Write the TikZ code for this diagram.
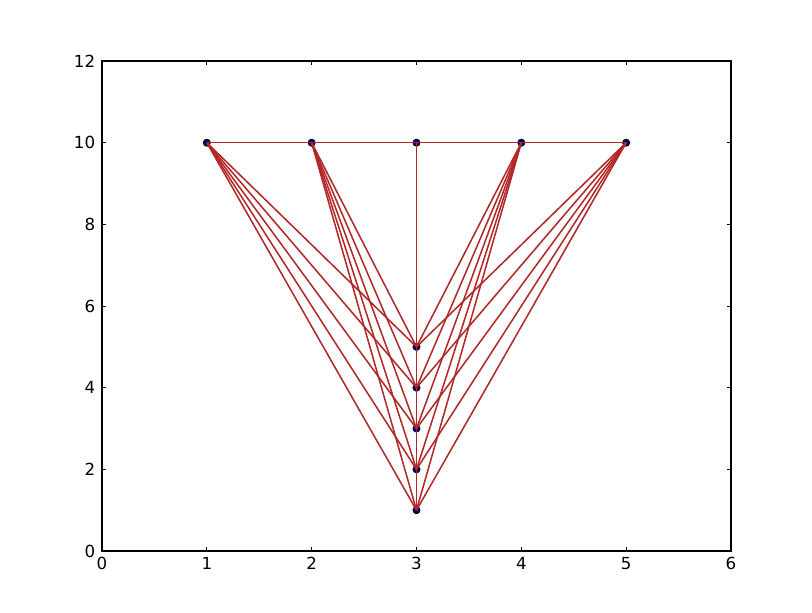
\documentclass[tikz,border=0pt]{standalone}
\usepackage{fontspec}
\setmainfont{DejaVu Sans}
\usetikzlibrary{positioning}
\definecolor{edgered}{RGB}{178,40,40}
\definecolor{dotblue}{RGB}{0,0,128}

\begin{document}
\begin{tikzpicture}[
  x=3.145cm, y=1.225cm,
  vertex/.style={circle, draw=black, fill=dotblue, inner sep=0pt, minimum size=0.22cm, line width=0.5pt},
  edge/.style={draw=edgered, line width=1.3pt},
  ticklbl/.style={font=\fontsize{14.2}{16}\selectfont, inner sep=0pt},
  tick/.style={line width=0.6pt}
]
  \useasboundingbox (-0.973,-1.494) rectangle (6.773,13.495);

  % ticks and labels
  \foreach \i in {0,...,6} {
    \draw[tick] (\i,0) -- ++(0,0.12cm);
    \draw[tick] (\i,12) -- ++(0,-0.12cm);
    \node[ticklbl, below=0.17cm of {(\i,0)}] (xl\i) {\i};
  }
  \foreach \j in {0,2,...,12} {
    \draw[tick] (0,\j) -- ++(0.12cm,0);
    \draw[tick] (6,\j) -- ++(-0.12cm,0);
    \node[ticklbl, left=0.2cm of {(0,\j)}] (yl\j) {\j};
  }

  % vertices
  \foreach \i in {1,...,5} \node[vertex] (t\i) at (\i,10) {};
  \foreach \j in {1,...,5} \node[vertex] (b\j) at (3,\j) {};

  % every pair joined
  \foreach \u [count=\k] in {t1,t2,t3,t4,t5,b1,b2,b3,b4,b5} {
    \foreach \v [count=\m] in {t1,t2,t3,t4,t5,b1,b2,b3,b4,b5} {
      \ifnum\m>\k \draw[edge] (\u.center) -- (\v.center); \fi
    }
  }

  % frame
  \draw[line width=1.1pt] (0,0) rectangle (6,12);
\end{tikzpicture}
\end{document}
